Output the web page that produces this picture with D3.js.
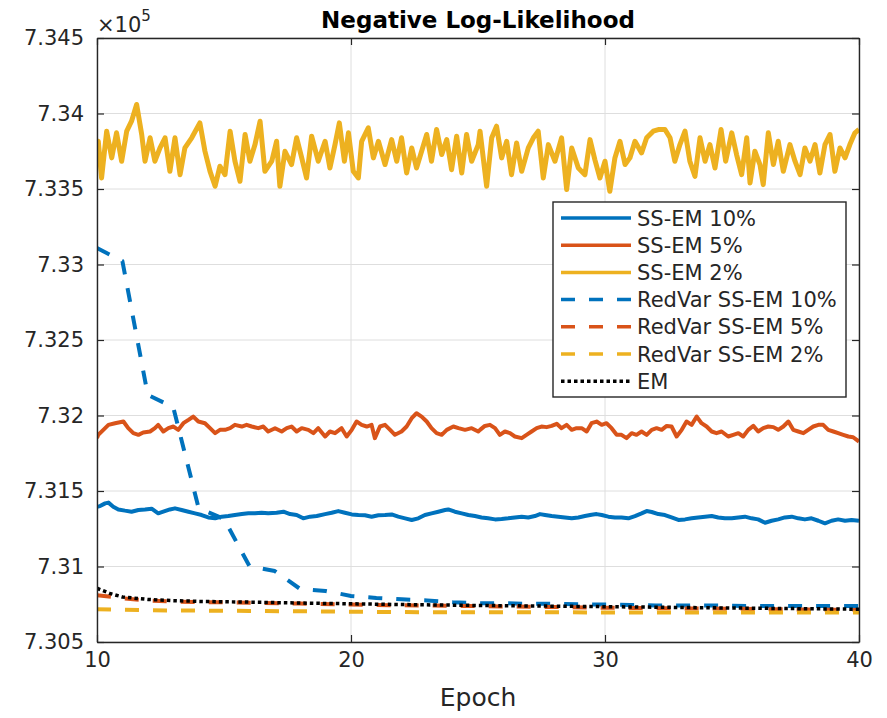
<!DOCTYPE html>
<html>
<head>
<meta charset="utf-8">
<script src="https://cdn.jsdelivr.net/npm/d3@7"></script>
<style>
  body { margin: 0; background: #fff; }
  svg { display: block; font-family: "DejaVu Sans", sans-serif; }
</style>
</head>
<body>
<svg id="chart" width="887" height="718"></svg>
<script>
// values are in units of 1e5
const xTicks = [10, 20, 30, 40];
const yTicks = [7.305, 7.31, 7.315, 7.32, 7.325, 7.33, 7.335, 7.34, 7.345];
const yTickLabels = ['7.305', '7.31', '7.315', '7.32', '7.325', '7.33', '7.335', '7.34', '7.345'];

const ssem10 = [[10.0,7.31396],[10.12,7.314],[10.32,7.31418],[10.45,7.31423],[10.64,7.31396],[10.84,7.31378],[11.1,7.3137],[11.36,7.31363],[11.63,7.31374],[11.89,7.31378],[12.15,7.31383],[12.41,7.31352],[12.61,7.31363],[12.87,7.31378],[13.07,7.31385],[13.33,7.31374],[13.6,7.31363],[13.86,7.31352],[14.12,7.31341],[14.38,7.31325],[14.65,7.31319],[14.91,7.3133],[15.17,7.31334],[15.43,7.31341],[15.7,7.31347],[15.96,7.31352],[16.22,7.31352],[16.48,7.31356],[16.74,7.31352],[17.07,7.31356],[17.34,7.31363],[17.6,7.31347],[17.86,7.31341],[18.12,7.31319],[18.39,7.3133],[18.65,7.31334],[18.98,7.31347],[19.24,7.31356],[19.5,7.31367],[19.76,7.31356],[20.03,7.31345],[20.29,7.31341],[20.55,7.31339],[20.81,7.3133],[21.08,7.31339],[21.34,7.31341],[21.6,7.31345],[21.86,7.3133],[22.13,7.31319],[22.39,7.31308],[22.65,7.31319],[22.91,7.31341],[23.17,7.31352],[23.44,7.31363],[23.7,7.31374],[23.83,7.31378],[24.09,7.31363],[24.36,7.31352],[24.62,7.31341],[24.88,7.31334],[25.14,7.31325],[25.4,7.31319],[25.67,7.31312],[25.93,7.31314],[26.19,7.31319],[26.45,7.31325],[26.72,7.3133],[26.98,7.31325],[27.24,7.31334],[27.44,7.31347],[27.64,7.31341],[27.9,7.31334],[28.16,7.3133],[28.42,7.31325],[28.69,7.31319],[28.95,7.31325],[29.21,7.31334],[29.47,7.31343],[29.67,7.31347],[29.87,7.31341],[30.13,7.3133],[30.39,7.31325],[30.65,7.31325],[30.92,7.31319],[31.18,7.31334],[31.44,7.31352],[31.64,7.31367],[31.84,7.31361],[32.1,7.31347],[32.36,7.31341],[32.62,7.31325],[32.89,7.31308],[33.15,7.31312],[33.41,7.31319],[33.67,7.31325],[33.94,7.3133],[34.2,7.31334],[34.46,7.31325],[34.72,7.31319],[34.99,7.31319],[35.25,7.31325],[35.51,7.3133],[35.77,7.31319],[36.03,7.31312],[36.3,7.3129],[36.56,7.31303],[36.82,7.31312],[37.08,7.31325],[37.35,7.3133],[37.61,7.31319],[37.87,7.31312],[38.13,7.31319],[38.4,7.31303],[38.66,7.31286],[38.92,7.31303],[39.18,7.31312],[39.45,7.31303],[39.71,7.31308],[40.0,7.31303]];

const ssem5 = [[10.0,7.3185],[10.05,7.31872],[10.25,7.31905],[10.45,7.31938],[10.71,7.31949],[11.04,7.3196],[11.23,7.31916],[11.43,7.31883],[11.63,7.31872],[11.82,7.31887],[12.09,7.31894],[12.28,7.31916],[12.41,7.31938],[12.61,7.31894],[12.81,7.31916],[13.01,7.31927],[13.2,7.31905],[13.4,7.31949],[13.6,7.31971],[13.79,7.31993],[13.99,7.3196],[14.25,7.31949],[14.45,7.31916],[14.65,7.31883],[14.84,7.31905],[15.04,7.31905],[15.24,7.31916],[15.43,7.31938],[15.7,7.31927],[15.89,7.31938],[16.09,7.31927],[16.35,7.31916],[16.55,7.31927],[16.74,7.31894],[17.01,7.31916],[17.27,7.31894],[17.47,7.31916],[17.66,7.31927],[17.86,7.31894],[18.06,7.31916],[18.32,7.31905],[18.52,7.31883],[18.71,7.31916],[18.98,7.31861],[19.17,7.31894],[19.37,7.31883],[19.63,7.31916],[19.83,7.31861],[20.03,7.31905],[20.22,7.3196],[20.42,7.31938],[20.62,7.31927],[20.81,7.31938],[20.94,7.3185],[21.14,7.31927],[21.34,7.31938],[21.54,7.31905],[21.73,7.31872],[21.99,7.31894],[22.19,7.31927],[22.39,7.31982],[22.58,7.32015],[22.78,7.31993],[22.98,7.3196],[23.17,7.31916],[23.37,7.31883],[23.57,7.31872],[23.77,7.31905],[24.03,7.31927],[24.23,7.31916],[24.49,7.31905],[24.75,7.31916],[25.01,7.31894],[25.08,7.31905],[25.27,7.31931],[25.47,7.31938],[25.67,7.31916],[25.86,7.31872],[26.06,7.31894],[26.26,7.31883],[26.45,7.31861],[26.72,7.3185],[26.91,7.31872],[27.11,7.31894],[27.31,7.31916],[27.5,7.31927],[27.7,7.31923],[27.9,7.31931],[28.1,7.31945],[28.29,7.31916],[28.49,7.31938],[28.69,7.31905],[28.88,7.31916],[29.08,7.31916],[29.28,7.31894],[29.47,7.31949],[29.67,7.3196],[29.87,7.31938],[30.06,7.31949],[30.26,7.31916],[30.46,7.31872],[30.65,7.31872],[30.85,7.3185],[31.05,7.31883],[31.24,7.31872],[31.44,7.31894],[31.64,7.31872],[31.84,7.31905],[32.03,7.31916],[32.23,7.31905],[32.43,7.31931],[32.62,7.31927],[32.82,7.31861],[33.02,7.31905],[33.21,7.3196],[33.41,7.31938],[33.61,7.31993],[33.8,7.31949],[34.0,7.31927],[34.2,7.31894],[34.39,7.31883],[34.59,7.31894],[34.85,7.31861],[35.05,7.31872],[35.25,7.31883],[35.44,7.31861],[35.64,7.31905],[35.84,7.31931],[36.03,7.31894],[36.23,7.31916],[36.43,7.31927],[36.63,7.31923],[36.82,7.31905],[37.02,7.31927],[37.22,7.3196],[37.41,7.31905],[37.61,7.31894],[37.81,7.31883],[38.0,7.31905],[38.2,7.31927],[38.4,7.31938],[38.59,7.31938],[38.79,7.31905],[38.99,7.31894],[39.18,7.31883],[39.38,7.31872],[39.58,7.31861],[39.77,7.31856],[40.0,7.31827]];

const ssem2 = [[10.0,7.33728],[10.05,7.33816],[10.18,7.33573],[10.38,7.33883],[10.58,7.33706],[10.77,7.33872],[10.97,7.33684],[11.17,7.33883],[11.36,7.33949],[11.56,7.3406],[11.76,7.33861],[11.89,7.33684],[12.09,7.33839],[12.28,7.33684],[12.48,7.33772],[12.68,7.33839],[12.87,7.33617],[13.07,7.33839],[13.27,7.33595],[13.46,7.33772],[13.73,7.33839],[14.05,7.33938],[14.25,7.3375],[14.45,7.33617],[14.65,7.33518],[14.84,7.33651],[15.04,7.33595],[15.24,7.33883],[15.43,7.33684],[15.63,7.33551],[15.83,7.33861],[16.02,7.33684],[16.22,7.33794],[16.42,7.33949],[16.61,7.33617],[16.88,7.33684],[17.07,7.33816],[17.2,7.33518],[17.4,7.3375],[17.66,7.33662],[17.86,7.33839],[18.06,7.33706],[18.25,7.33573],[18.45,7.3385],[18.71,7.33684],[18.98,7.33816],[19.17,7.33639],[19.37,7.33794],[19.54,7.33938],[19.74,7.33684],[19.9,7.33872],[20.09,7.33617],[20.29,7.33573],[20.42,7.33816],[20.68,7.33905],[20.88,7.33706],[21.08,7.33816],[21.34,7.33662],[21.6,7.33827],[21.8,7.33684],[21.99,7.33839],[22.19,7.33606],[22.39,7.33772],[22.58,7.33639],[22.78,7.3375],[22.98,7.33861],[23.17,7.33684],[23.37,7.33894],[23.57,7.33728],[23.77,7.33827],[23.96,7.33628],[24.16,7.3385],[24.36,7.33606],[24.55,7.33861],[24.75,7.33684],[25.01,7.33794],[25.08,7.33883],[25.34,7.33518],[25.54,7.33839],[25.73,7.33916],[25.93,7.33706],[26.13,7.33816],[26.32,7.33595],[26.52,7.33805],[26.72,7.33617],[26.98,7.33772],[27.18,7.33839],[27.37,7.33883],[27.57,7.33573],[27.77,7.33794],[28.03,7.33684],[28.29,7.33839],[28.49,7.33496],[28.69,7.33772],[28.95,7.33639],[29.21,7.33595],[29.41,7.33827],[29.6,7.33695],[29.8,7.33573],[30.0,7.33684],[30.19,7.33485],[30.39,7.33706],[30.59,7.33816],[30.79,7.33662],[30.98,7.33706],[31.18,7.33816],[31.44,7.33739],[31.64,7.33839],[31.9,7.33883],[32.1,7.33894],[32.36,7.33894],[32.56,7.33839],[32.75,7.33684],[32.95,7.33794],[33.15,7.33883],[33.34,7.33684],[33.54,7.33584],[33.74,7.33839],[33.94,7.33684],[34.13,7.33794],[34.33,7.33639],[34.57,7.33894],[34.75,7.33684],[34.99,7.33872],[35.18,7.33728],[35.38,7.33595],[35.58,7.33839],[35.71,7.3354],[35.9,7.3375],[36.1,7.33662],[36.23,7.33529],[36.43,7.33872],[36.63,7.33662],[36.82,7.33816],[37.02,7.33617],[37.28,7.33794],[37.48,7.33684],[37.68,7.33595],[37.87,7.33772],[38.07,7.33684],[38.27,7.33794],[38.46,7.33606],[38.66,7.33794],[38.86,7.33861],[39.05,7.33617],[39.25,7.33772],[39.45,7.33706],[39.64,7.33794],[39.84,7.33872],[40.0,7.33894]];

const redvar10 = [[10,7.33109],[11,7.33023],[12,7.32136],[13,7.32056],[14,7.31387],[15,7.31315],[16,7.31003],[17,7.3097],[18,7.30851],[19,7.30838],[20,7.30805],[21,7.30792],[22,7.30783],[23,7.30775],[24,7.30764],[25,7.30757],[26,7.30757],[27,7.30753],[28,7.30753],[29,7.30749],[30,7.30749],[31,7.30745],[32,7.30742],[33,7.30742],[34,7.30742],[35,7.3074],[36,7.30738],[37,7.30738],[38,7.30738],[39,7.30738],[40,7.30738]];
const redvar5 = [[10,7.3081],[11,7.3079],[12,7.30775],[13,7.30768],[14,7.30765],[16,7.3076],[18,7.30755],[20,7.30748],[22,7.30743],[25,7.30738],[30,7.30727],[35,7.3072],[40,7.30712]];
const redvar2 = [[10,7.30717],[12,7.3071],[16,7.30706],[22,7.30698],[30,7.30696],[40,7.30695]];
const em = [[10,7.30856],[10.5,7.30822],[11,7.30798],[12,7.30782],[13,7.30774],[14,7.30769],[16,7.30764],[18,7.30758],[20,7.30753],[22,7.30748],[25,7.30742],[30,7.30734],[35,7.30725],[40,7.30717]];

const seriesNames = ['SS-EM 10%', 'SS-EM 5%', 'SS-EM 2%', 'RedVar SS-EM 10%', 'RedVar SS-EM 5%', 'RedVar SS-EM 2%', 'EM'];
const seriesData = [ssem10, ssem5, ssem2, redvar10, redvar5, redvar2, em];

const blue = '#0072bd', orange = '#d95319', yellow = '#edb120';
const styles = [
  { color: blue, width: 4, dash: null },
  { color: orange, width: 4, dash: null },
  { color: yellow, width: 5, dash: null },
  { color: blue, width: 4, dash: '14,14' },
  { color: orange, width: 4, dash: '14,14' },
  { color: yellow, width: 4, dash: '14,14' },
  { color: '#000', width: 3.5, dash: '3.5,3' },
];

const plotLeft = 97, plotRight = 859, plotTop = 38, plotBottom = 642;
const ink = '#262626';

const svg = d3.select('#chart');

const x = d3.scaleLinear().domain([10, 40]).range([plotLeft, plotRight]);
const y = d3.scaleLinear().domain([7.305, 7.345]).range([plotBottom, plotTop]);

// grid
const grid = svg.append('g').attr('stroke', '#dedede').attr('stroke-width', 1);
grid.selectAll('line.gx')
  .data(xTicks)
  .enter()
  .append('line')
  .attr('x1', d => x(d)).attr('x2', d => x(d))
  .attr('y1', plotTop).attr('y2', plotBottom);
grid.selectAll('line.gy')
  .data(yTicks)
  .enter()
  .append('line')
  .attr('x1', plotLeft).attr('x2', plotRight)
  .attr('y1', d => y(d)).attr('y2', d => y(d));

svg.append('clipPath')
  .attr('id', 'plot-clip')
  .append('rect')
  .attr('x', plotLeft).attr('y', plotTop)
  .attr('width', plotRight - plotLeft).attr('height', plotBottom - plotTop);

const line = d3.line()
  .x(d => x(d[0]))
  .y(d => y(d[1]));

svg.append('g')
  .attr('clip-path', 'url(#plot-clip)')
  .selectAll('path')
  .data(seriesData)
  .enter()
  .append('path')
  .attr('d', line)
  .attr('fill', 'none')
  .attr('stroke', (d, i) => styles[i].color)
  .attr('stroke-width', (d, i) => styles[i].width)
  .attr('stroke-dasharray', (d, i) => styles[i].dash)
  .attr('stroke-linejoin', 'round');

// axes, ticks point inward
const styleAxis = g => {
  g.select('.domain').attr('stroke', ink).attr('stroke-width', 1.4);
  g.selectAll('.tick line').attr('stroke', ink).attr('stroke-width', 1.2);
  g.selectAll('.tick text').attr('fill', ink).attr('font-size', 21).attr('font-family', '"DejaVu Sans", sans-serif');
};

svg.append('g')
  .attr('transform', `translate(0,${plotBottom})`)
  .call(d3.axisBottom(x).tickValues(xTicks).tickSizeInner(-7).tickSizeOuter(0).tickPadding(10).tickFormat(d3.format('d')))
  .call(styleAxis);

svg.append('g')
  .attr('transform', `translate(0,${plotTop})`)
  .call(d3.axisTop(x).tickValues(xTicks).tickSizeInner(-7).tickSizeOuter(0).tickFormat(''))
  .call(styleAxis);

svg.append('g')
  .attr('transform', `translate(${plotLeft},0)`)
  .call(d3.axisLeft(y).tickValues(yTicks).tickSizeInner(-7).tickSizeOuter(0).tickPadding(13).tickFormat((d, i) => yTickLabels[i]))
  .call(styleAxis);

svg.append('g')
  .attr('transform', `translate(${plotRight},0)`)
  .call(d3.axisRight(y).tickValues(yTicks).tickSizeInner(-7).tickSizeOuter(0).tickFormat(''))
  .call(styleAxis);

// exponent label
const expo = svg.append('text')
  .attr('x', 97)
  .attr('y', 32)
  .attr('fill', ink)
  .attr('font-size', 21);
expo.append('tspan').text('×10');
expo.append('tspan').attr('font-size', 15).attr('dy', -11).text('5');

svg.append('text')
  .attr('x', (plotLeft + plotRight) / 2)
  .attr('y', 28)
  .attr('text-anchor', 'middle')
  .attr('font-size', 23)
  .attr('font-weight', 'bold')
  .attr('fill', '#000')
  .text('Negative Log-Likelihood');

svg.append('text')
  .attr('x', (plotLeft + plotRight) / 2)
  .attr('y', 706)
  .attr('text-anchor', 'middle')
  .attr('font-size', 25)
  .attr('fill', ink)
  .text('Epoch');

// legend
const legend = svg.append('g').attr('transform', 'translate(553,202)');
legend.append('rect')
  .attr('width', 293)
  .attr('height', 195)
  .attr('fill', '#fff')
  .attr('stroke', ink)
  .attr('stroke-width', 1.4);

const rows = legend.selectAll('g.row')
  .data(seriesNames)
  .enter()
  .append('g')
  .attr('transform', (d, i) => `translate(0,${16 + i * 27.2})`);

rows.append('line')
  .attr('x1', 8).attr('x2', 78)
  .attr('stroke', (d, i) => styles[i].color)
  .attr('stroke-width', (d, i) => Math.min(styles[i].width, 3.5))
  .attr('stroke-dasharray', (d, i) => styles[i].dash);

rows.append('text')
  .attr('x', 84)
  .attr('dy', '0.36em')
  .attr('font-size', 21)
  .attr('fill', ink)
  .text(d => d);
</script>
</body>
</html>
